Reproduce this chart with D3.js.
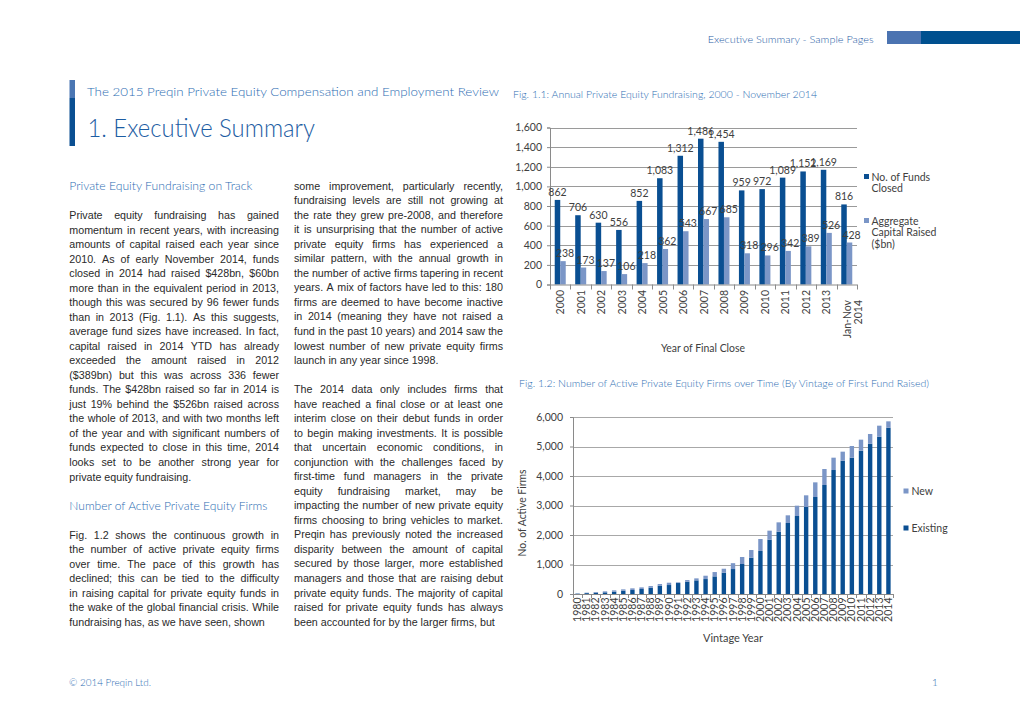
<!DOCTYPE html>
<html><head><meta charset="utf-8">
<script src="https://cdn.jsdelivr.net/npm/d3@7"></script>
<style>
html,body{margin:0;padding:0;background:#fff;}
svg{display:block;}
.body{font-family:"Liberation Sans",Arial,sans-serif;font-size:10.7px;fill:#2a2a2a;}
.gothic{font-family:"Lato","DejaVu Sans",sans-serif;font-weight:300;}
.ax{font-family:"Lato","DejaVu Sans",sans-serif;font-size:10.5px;fill:#404040;font-weight:400;}
</style></head><body>
<svg id="page" width="1020" height="721"></svg>
<script>
// ---------- Fig 1.1 data ----------
const fig1Categories = ["2000","2001","2002","2003","2004","2005","2006","2007","2008","2009","2010","2011","2012","2013","Jan-Nov 2014"];
const fundsClosed    = [862,706,630,556,852,1083,1312,1486,1454,959,972,1089,1152,1169,816];
const capitalRaised  = [238,173,137,106,218,362,543,667,685,318,296,342,389,526,428];
const fig1Ticks      = [0,200,400,600,800,1000,1200,1400,1600];
const fig1Series     = ["No. of Funds Closed","Aggregate Capital Raised ($bn)"];

// ---------- Fig 1.2 data ----------
const vintageYears = ["1980","1981","1982","1983","1984","1985","1986","1987","1988","1989","1990","1991","1992","1993","1994","1995","1996","1997","1998","1999","2000","2001","2002","2003","2004","2005","2006","2007","2008","2009","2010","2011","2012","2013","2014"];
const existingFirms = [12,30,45,56,79,113,135,169,214,282,304,372,417,462,507,597,721,846,1017,1232,1458,1842,2113,2407,2644,2949,3288,3695,4203,4519,4621,4859,5096,5333,5638];
const newFirms      = [8,15,23,34,45,45,57,56,56,56,79,23,56,68,113,147,136,199,237,259,406,305,316,260,350,396,497,542,418,306,396,373,328,373,215];
const fig2Ticks     = [0,1000,2000,3000,4000,5000,6000];
const fig2Series    = ["New","Existing"];

// ---------- Text ----------
const leftPara1 = [
"Private equity fundraising has gained",
"momentum in recent years, with increasing",
"amounts of capital raised each year since",
"2010. As of early November 2014, funds",
"closed in 2014 had raised $428bn, $60bn",
"more than in the equivalent period in 2013,",
"though this was secured by 96 fewer funds",
"than in 2013 (Fig. 1.1). As this suggests,",
"average fund sizes have increased. In fact,",
"capital raised in 2014 YTD has already",
"exceeded the amount raised in 2012",
"($389bn) but this was across 336 fewer",
"funds. The $428bn raised so far in 2014 is",
"just 19% behind the $526bn raised across",
"the whole of 2013, and with two months left",
"of the year and with significant numbers of",
"funds expected to close in this time, 2014",
"looks set to be another strong year for",
"private equity fundraising."];
const leftPara2 = [
"Fig. 1.2 shows the continuous growth in",
"the number of active private equity firms",
"over time. The pace of this growth has",
"declined; this can be tied to the difficulty",
"in raising capital for private equity funds in",
"the wake of the global financial crisis. While",
"fundraising has, as we have seen, shown"];
const rightPara1 = [
"some improvement, particularly recently,",
"fundraising levels are still not growing at",
"the rate they grew pre-2008, and therefore",
"it is unsurprising that the number of active",
"private equity firms has experienced a",
"similar pattern, with the annual growth in",
"the number of active firms tapering in recent",
"years. A mix of factors have led to this: 180",
"firms are deemed to have become inactive",
"in 2014 (meaning they have not raised a",
"fund in the past 10 years) and 2014 saw the",
"lowest number of new private equity firms",
"launch in any year since 1998."];
const rightPara2 = [
"The 2014 data only includes firms that",
"have reached a final close or at least one",
"interim close on their debut funds in order",
"to begin making investments. It is possible",
"that uncertain economic conditions, in",
"conjunction with the challenges faced by",
"first-time fund managers in the private",
"equity fundraising market, may be",
"impacting the number of new private equity",
"firms choosing to bring vehicles to market.",
"Preqin has previously noted the increased",
"disparity between the amount of capital",
"secured by those larger, more established",
"managers and those that are raising debut",
"private equity funds. The majority of capital",
"raised for private equity funds has always",
"been accounted for by the larger firms, but"];

const DARK = "#0a4f92", LIGHT = "#7b96c7", BLUE_TXT = "#2d6db3", TITLE_BLUE = "#1d5da3";
const svg = d3.select("#page");
svg.append("rect").attr("width",1020).attr("height",721).attr("fill","#fff");

function gtext(str, x, y, size, width, color, anchor){
  const t = svg.append("text").attr("class","gothic").attr("x",x).attr("y",y)
    .attr("font-size",size).attr("fill",color||BLUE_TXT).text(str);
  if(anchor) t.attr("text-anchor",anchor);
  if(width) t.attr("textLength",width).attr("lengthAdjust","spacingAndGlyphs");
  return t;
}

// ---------- Page furniture ----------
gtext("Executive Summary - Sample Pages", 707.7, 42.5, 10.5, 166, "#2a5ea6");
svg.append("rect").attr("x",887).attr("y",31).attr("width",34).attr("height",13).attr("fill","#4b73b1");
svg.append("rect").attr("x",921).attr("y",31).attr("width",99).attr("height",13).attr("fill","#00508f");

svg.append("rect").attr("x",69.5).attr("y",80).attr("width",5.5).attr("height",18).attr("fill","#4a76b3");
svg.append("rect").attr("x",69.5).attr("y",98).attr("width",5.5).attr("height",48).attr("fill","#0a4f92");
gtext("The 2015 Preqin Private Equity Compensation and Employment Review", 87, 95.7, 12.5, 412, BLUE_TXT);
gtext("1. Executive Summary", 87.5, 137, 26, 227.5, TITLE_BLUE);

gtext("© 2014 Preqin Ltd.", 69, 685.5, 10, 82, BLUE_TXT);
gtext("1", 932, 685.5, 10, null, BLUE_TXT);

// ---------- Body text ----------
const LH = 14.53;
function para(lines, x, y, w){
  lines.forEach((ln,i)=>{
    const last = i === lines.length-1;
    const t = svg.append("text").attr("class","body").attr("y", y + i*LH);
    const words = ln.split(" ");
    const spans = words.map(wd => t.append("tspan").text(wd));
    const widths = spans.map(s => s.node().getComputedTextLength());
    const total = d3.sum(widths);
    const gap = (last || words.length<2) ? 2.97 : (w-total)/(words.length-1);
    let cx = x;
    spans.forEach((s,j)=>{ s.attr("x", cx); cx += widths[j] + gap; });
  });
}
const LX = 69.3, LW = 209.7, RX = 294, RW = 209;
const base = 219;
gtext("Private Equity Fundraising on Track", LX, base-2*LH, 11.5, 183, BLUE_TXT);
para(leftPara1, LX, base, LW);
gtext("Number of Active Private Equity Firms", LX, base+20*LH, 11.5, 198, BLUE_TXT);
para(leftPara2, LX, base+22*LH, LW);
para(rightPara1, RX, 189.7, RW);
para(rightPara2, RX, 189.7+14*LH, RW);

// ---------- Fig 1.1 ----------
gtext("Fig. 1.1: Annual Private Equity Fundraising, 2000 - November 2014", 513, 97.5, 10, 304, BLUE_TXT);
{
  const x0 = 550, x1 = 857, yb = 284.5, yt = 127.5;
  const x = d3.scaleBand().domain(fig1Categories).range([x0,x1]).paddingInner(0).paddingOuter(0);
  const xs = d3.scaleBand().domain([0,1]).range([0,x.bandwidth()]).paddingInner(0).paddingOuter(0.86);
  const y = d3.scaleLinear().domain([0,1600]).range([yb,yt]);
  const g = svg.append("g");
  g.selectAll("line.grid").data(fig1Ticks.filter(d=>d>0)).join("line")
    .attr("x1",x0).attr("x2",x1).attr("y1",d=>Math.round(y(d))+0.5).attr("y2",d=>Math.round(y(d))+0.5)
    .attr("stroke","#9a9a9a").attr("stroke-width",1);
  const ya = g.append("g").attr("transform",`translate(${x0},0)`)
    .call(d3.axisLeft(y).tickValues(fig1Ticks).tickFormat(d3.format(",")).tickSize(3).tickPadding(5));
  ya.select(".domain").attr("stroke","#8a8a8a");
  ya.selectAll(".tick line").attr("stroke","#8a8a8a");
  ya.selectAll("text").attr("class","ax").attr("font-family",null).attr("font-size",null).attr("fill","#404040");
  const s1 = fig1Categories.map((c,i)=>({c, v:fundsClosed[i], s:0}));
  const s2 = fig1Categories.map((c,i)=>({c, v:capitalRaised[i], s:1}));
  [s1,s2].forEach((arr,k)=>{
    g.selectAll(null).data(arr).join("rect")
      .attr("x",d=>x(d.c)+xs(d.s)).attr("width",xs.bandwidth())
      .attr("y",d=>y(d.v)).attr("height",d=>yb-y(d.v))
      .attr("fill",k===0?DARK:LIGHT);
  });
  [s1,s2].forEach((arr,k)=>{
    g.selectAll(null).data(arr).join("text").attr("class","ax")
      .attr("x",d=>x(d.c)+xs(d.s)+xs.bandwidth()/2+(k===1?2:0)).attr("y",d=>y(d.v)-4)
      .attr("text-anchor","middle").attr("font-size","10px").text(d=>d3.format(",")(d.v));
  });
  g.append("line").attr("x1",x0).attr("x2",x1).attr("y1",yb+0.5).attr("y2",yb+0.5).attr("stroke","#8a8a8a");
  const bounds = fig1Categories.map(c=>x(c)).concat([x1]);
  g.selectAll(null).data(bounds).join("line")
    .attr("x1",d=>Math.round(d)+0.5).attr("x2",d=>Math.round(d)+0.5).attr("y1",yb).attr("y2",yb+5).attr("stroke","#8a8a8a");
  fig1Categories.forEach(c=>{
    const cx = x(c)+x.bandwidth()/2;
    const parts = c.split(" ");
    if(parts.length===1){
      g.append("text").attr("class","ax").attr("text-anchor","end")
        .attr("transform",`translate(${cx+4},290) rotate(-90)`).text(c);
    } else {
      parts.forEach((p,j)=>{
        g.append("text").attr("class","ax").attr("text-anchor","end")
          .attr("transform",`translate(${cx+4+j*11},300) rotate(-90)`).text(p);
      });
    }
  });
  g.append("text").attr("class","ax").attr("x",703).attr("y",351.5).attr("text-anchor","middle")
    .attr("textLength",84).attr("lengthAdjust","spacingAndGlyphs").text("Year of Final Close");
  const leg = [{c:DARK, lines:["No. of Funds","Closed"], y:176.5},{c:LIGHT, lines:["Aggregate","Capital Raised","($bn)"], y:220.5}];
  leg.forEach(L=>{
    g.append("rect").attr("x",864).attr("y",L.y-2.5).attr("width",5).attr("height",5).attr("fill",L.c);
    L.lines.forEach((t,j)=>g.append("text").attr("class","ax").attr("font-size","11px")
      .attr("x",871.5).attr("y",L.y+4+j*11.8).text(t));
  });
}

// ---------- Fig 1.2 ----------
gtext("Fig. 1.2: Number of Active Private Equity Firms over Time (By Vintage of First Fund Raised)", 519, 386.5, 10, 410, BLUE_TXT);
{
  const x0 = 573, x1 = 893, yb = 594, yt = 417;
  const x = d3.scaleBand().domain(vintageYears).range([x0,x1]).paddingInner(0.52).paddingOuter(0.26);
  const y = d3.scaleLinear().domain([0,6000]).range([yb,yt]);
  const g = svg.append("g");
  g.selectAll(null).data(fig2Ticks.filter(d=>d>0)).join("line")
    .attr("x1",x0).attr("x2",x1).attr("y1",d=>Math.round(y(d))+0.5).attr("y2",d=>Math.round(y(d))+0.5)
    .attr("stroke","#a8a8a8").attr("stroke-width",1.2);
  const ya = g.append("g").attr("transform",`translate(${x0},0)`)
    .call(d3.axisLeft(y).tickValues(fig2Ticks).tickFormat(d3.format(",")).tickSize(3).tickPadding(7));
  ya.select(".domain").attr("stroke","#8a8a8a");
  ya.selectAll(".tick line").attr("stroke","#8a8a8a");
  ya.selectAll("text").attr("class","ax").attr("font-family",null).attr("font-size",null).attr("fill","#404040");
  const stack = d3.stack().keys(["existing","new"])(vintageYears.map((v,i)=>({v, existing:existingFirms[i], new:newFirms[i]})));
  stack.forEach((layer,k)=>{
    g.selectAll(null).data(layer).join("rect")
      .attr("x",d=>x(d.data.v)).attr("width",x.bandwidth())
      .attr("y",d=>y(d[1])).attr("height",d=>y(d[0])-y(d[1]))
      .attr("fill",k===0?DARK:LIGHT);
  });
  g.append("line").attr("x1",x0).attr("x2",x1).attr("y1",yb+0.5).attr("y2",yb+0.5).attr("stroke","#8a8a8a");
  const bounds = d3.range(vintageYears.length+1).map(i=>x0+i*(x1-x0)/vintageYears.length);
  g.selectAll(null).data(bounds).join("line")
    .attr("x1",d=>Math.round(d)+0.5).attr("x2",d=>Math.round(d)+0.5).attr("y1",yb).attr("y2",yb+4).attr("stroke","#8a8a8a");
  g.selectAll(null).data(vintageYears).join("text").attr("class","ax").attr("font-size","10px")
    .attr("text-anchor","end")
    .attr("transform",d=>`translate(${x(d)+x.bandwidth()/2+3.6},597.5) rotate(-90)`).text(d=>d);
  g.append("text").attr("class","ax").attr("x",733).attr("y",641.5).attr("text-anchor","middle")
    .attr("textLength",60).attr("lengthAdjust","spacingAndGlyphs").text("Vintage Year");
  g.append("text").attr("class","ax").attr("text-anchor","middle")
    .attr("transform","translate(525.5,513) rotate(-90)")
    .attr("textLength",87).attr("lengthAdjust","spacingAndGlyphs").text("No. of Active Firms");
  const leg = [{c:LIGHT,t:fig2Series[0],y:491},{c:DARK,t:fig2Series[1],y:528}];
  leg.forEach(L=>{
    g.append("rect").attr("x",903.5).attr("y",L.y-2.5).attr("width",5).attr("height",5).attr("fill",L.c);
    g.append("text").attr("class","ax").attr("font-size","11px").attr("x",911.5).attr("y",L.y+4).text(L.t);
  });
}
</script>
</body></html>
